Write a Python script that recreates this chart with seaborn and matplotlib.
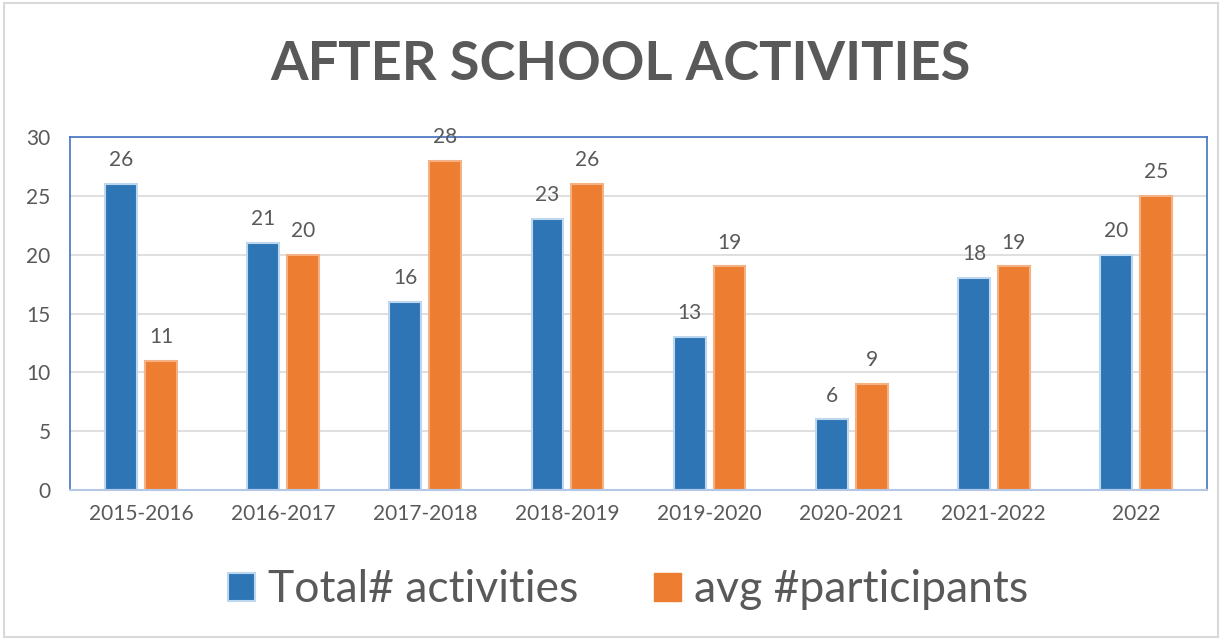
import pandas as pd
import matplotlib.pyplot as plt
import seaborn as sns
from matplotlib.patches import Rectangle, Patch

# Chart data
years = ['2015-2016', '2016-2017', '2017-2018', '2018-2019',
         '2019-2020', '2020-2021', '2021-2022', '2022']
total_activities = [26, 21, 16, 23, 13, 6, 18, 20]
avg_participants = [11, 20, 28, 26, 19, 9, 19, 25]
series_names = ['Total# activities', 'avg #participants']

df = pd.DataFrame({
    'Year': years * 2,
    'Value': total_activities + avg_participants,
    'Series': [series_names[0]] * len(years) + [series_names[1]] * len(years),
})

sns.set_style('white')
plt.rcParams['font.family'] = ['Lato', 'DejaVu Sans']

blue = '#2E75B6'
orange = '#ED7D31'
text_col = '#595959'

fig = plt.figure(figsize=(12.24, 6.39), dpi=100)
ax = fig.add_axes([70 / 1224, 1 - 490 / 639, 1137 / 1224, 353 / 639])

sns.barplot(data=df, x='Year', y='Value', hue='Series',
            palette=[blue, orange], saturation=1, width=0.56, gap=0.2,
            ax=ax, legend=False)

# light edges on the bars
for i, cont in enumerate(ax.containers):
    for bar in cont:
        bar.set_edgecolor('#BDD7EE' if i == 0 else '#F4B183')
        bar.set_linewidth(1.5)
    ax.bar_label(cont, padding=10, fontsize=15, color=text_col)

ax.set_xlim(-0.5, 7.5)
ax.set_ylim(0, 30)
ax.set_yticks(range(0, 31, 5))
ax.yaxis.grid(True, color='#D9D9D9', linewidth=1.2)
ax.set_axisbelow(True)
ax.set_xlabel('')
ax.set_ylabel('')
ax.tick_params(axis='both', labelsize=15, labelcolor=text_col, length=0, pad=10)
ax.tick_params(axis='y', pad=14)
for s in ['left', 'top', 'right']:
    ax.spines[s].set_color('#4472C4')
    ax.spines[s].set_linewidth(1.2)
ax.spines['bottom'].set_color('#B4C7E7')
ax.spines['bottom'].set_linewidth(1.5)

fig.text(620 / 1224, 1 - 65 / 639, 'AFTER SCHOOL ACTIVITIES', ha='center', va='center',
         fontsize=39, fontweight='bold', color=text_col)

handles = [Patch(facecolor=blue, edgecolor='#BDD7EE', linewidth=1.5),
           Patch(facecolor=orange, edgecolor=orange)]
fig.legend(handles, series_names, loc='center', bbox_to_anchor=(628 / 1224, 1 - 590 / 639),
           ncol=2, frameon=False, fontsize=32, labelcolor=text_col,
           handlelength=0.6, handleheight=0.6, handletextpad=0.3, columnspacing=1.7)

# thin gray frame around the whole chart
fig.patches.append(Rectangle((4 / 1224, 2 / 639), 1214 / 1224, 634 / 639,
                             transform=fig.transFigure, fill=False,
                             edgecolor='#D9D9D9', linewidth=1.5))

fig.savefig('out.png', dpi=100)
